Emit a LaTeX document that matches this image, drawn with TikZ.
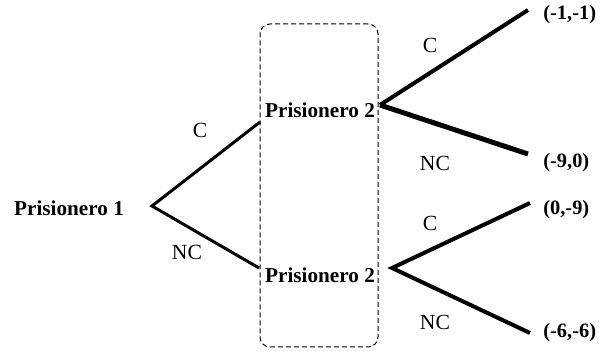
\documentclass[tikz,border=0pt]{standalone}
\usepackage{fontspec}
\setmainfont{Liberation Serif}
\begin{document}
\begin{tikzpicture}[x=0.5pt,y=-0.5pt,
  jug/.style={font=\fontsize{10.6}{12}\selectfont\bfseries,inner sep=0pt},
  pago/.style={font=\fontsize{10.2}{12}\selectfont\bfseries,inner sep=0pt,anchor=west},
  acc/.style={font=\fontsize{10.8}{12}\selectfont,inner sep=0pt},
  rama/.style={line width=1.5pt}]
\useasboundingbox (0,0) rectangle (601,352);
% conjunto de informacion
\node[draw,dash pattern=on 2.5pt off 1.5pt,line width=0.5pt,rounded corners=5pt,
  minimum width=59pt,minimum height=161.5pt] (info) at (319,185.5) {};
\node[jug] (P1) at (69,208) {Prisionero 1};
\node[jug] (P2a) at (320,110) {Prisionero 2};
\node[jug] (P2b) at (320,275) {Prisionero 2};
\node[pago] (u1) at (543,15) {(-1,-1)};
\node[pago] (u2) at (543,163) {(-9,0)};
\node[pago] (u3) at (543,210) {(0,-9)};
\node[pago] (u4) at (543,333) {(-6,-6)};
\coordinate (r0) at (152,206);
\coordinate (r1) at (260,122);
\coordinate (r2) at (259,268);
\coordinate (s0) at (380,105);
\coordinate (s1) at (528,10);
\coordinate (s2) at (528,154);
\coordinate (t0) at (392,268);
\coordinate (t1) at (530,203);
\coordinate (t2) at (530,333);
\draw[rama] (r1) -- (r0) -- (r2);
\draw[rama,line width=2pt] (s0) -- (s1);
\draw[rama,line width=2.5pt] (s0) -- (s2);
\draw[rama,line width=2pt] (t1) -- (t0) -- (t2);
\node[acc] (c1) at (200,130) {C};
\node[acc] (n1) at (187,252) {NC};
\node[acc] (c2) at (430,45) {C};
\node[acc] (n2) at (435,163) {NC};
\node[acc] (c3) at (430,223) {C};
\node[acc] (n3) at (435,322) {NC};
\end{tikzpicture}
\end{document}
